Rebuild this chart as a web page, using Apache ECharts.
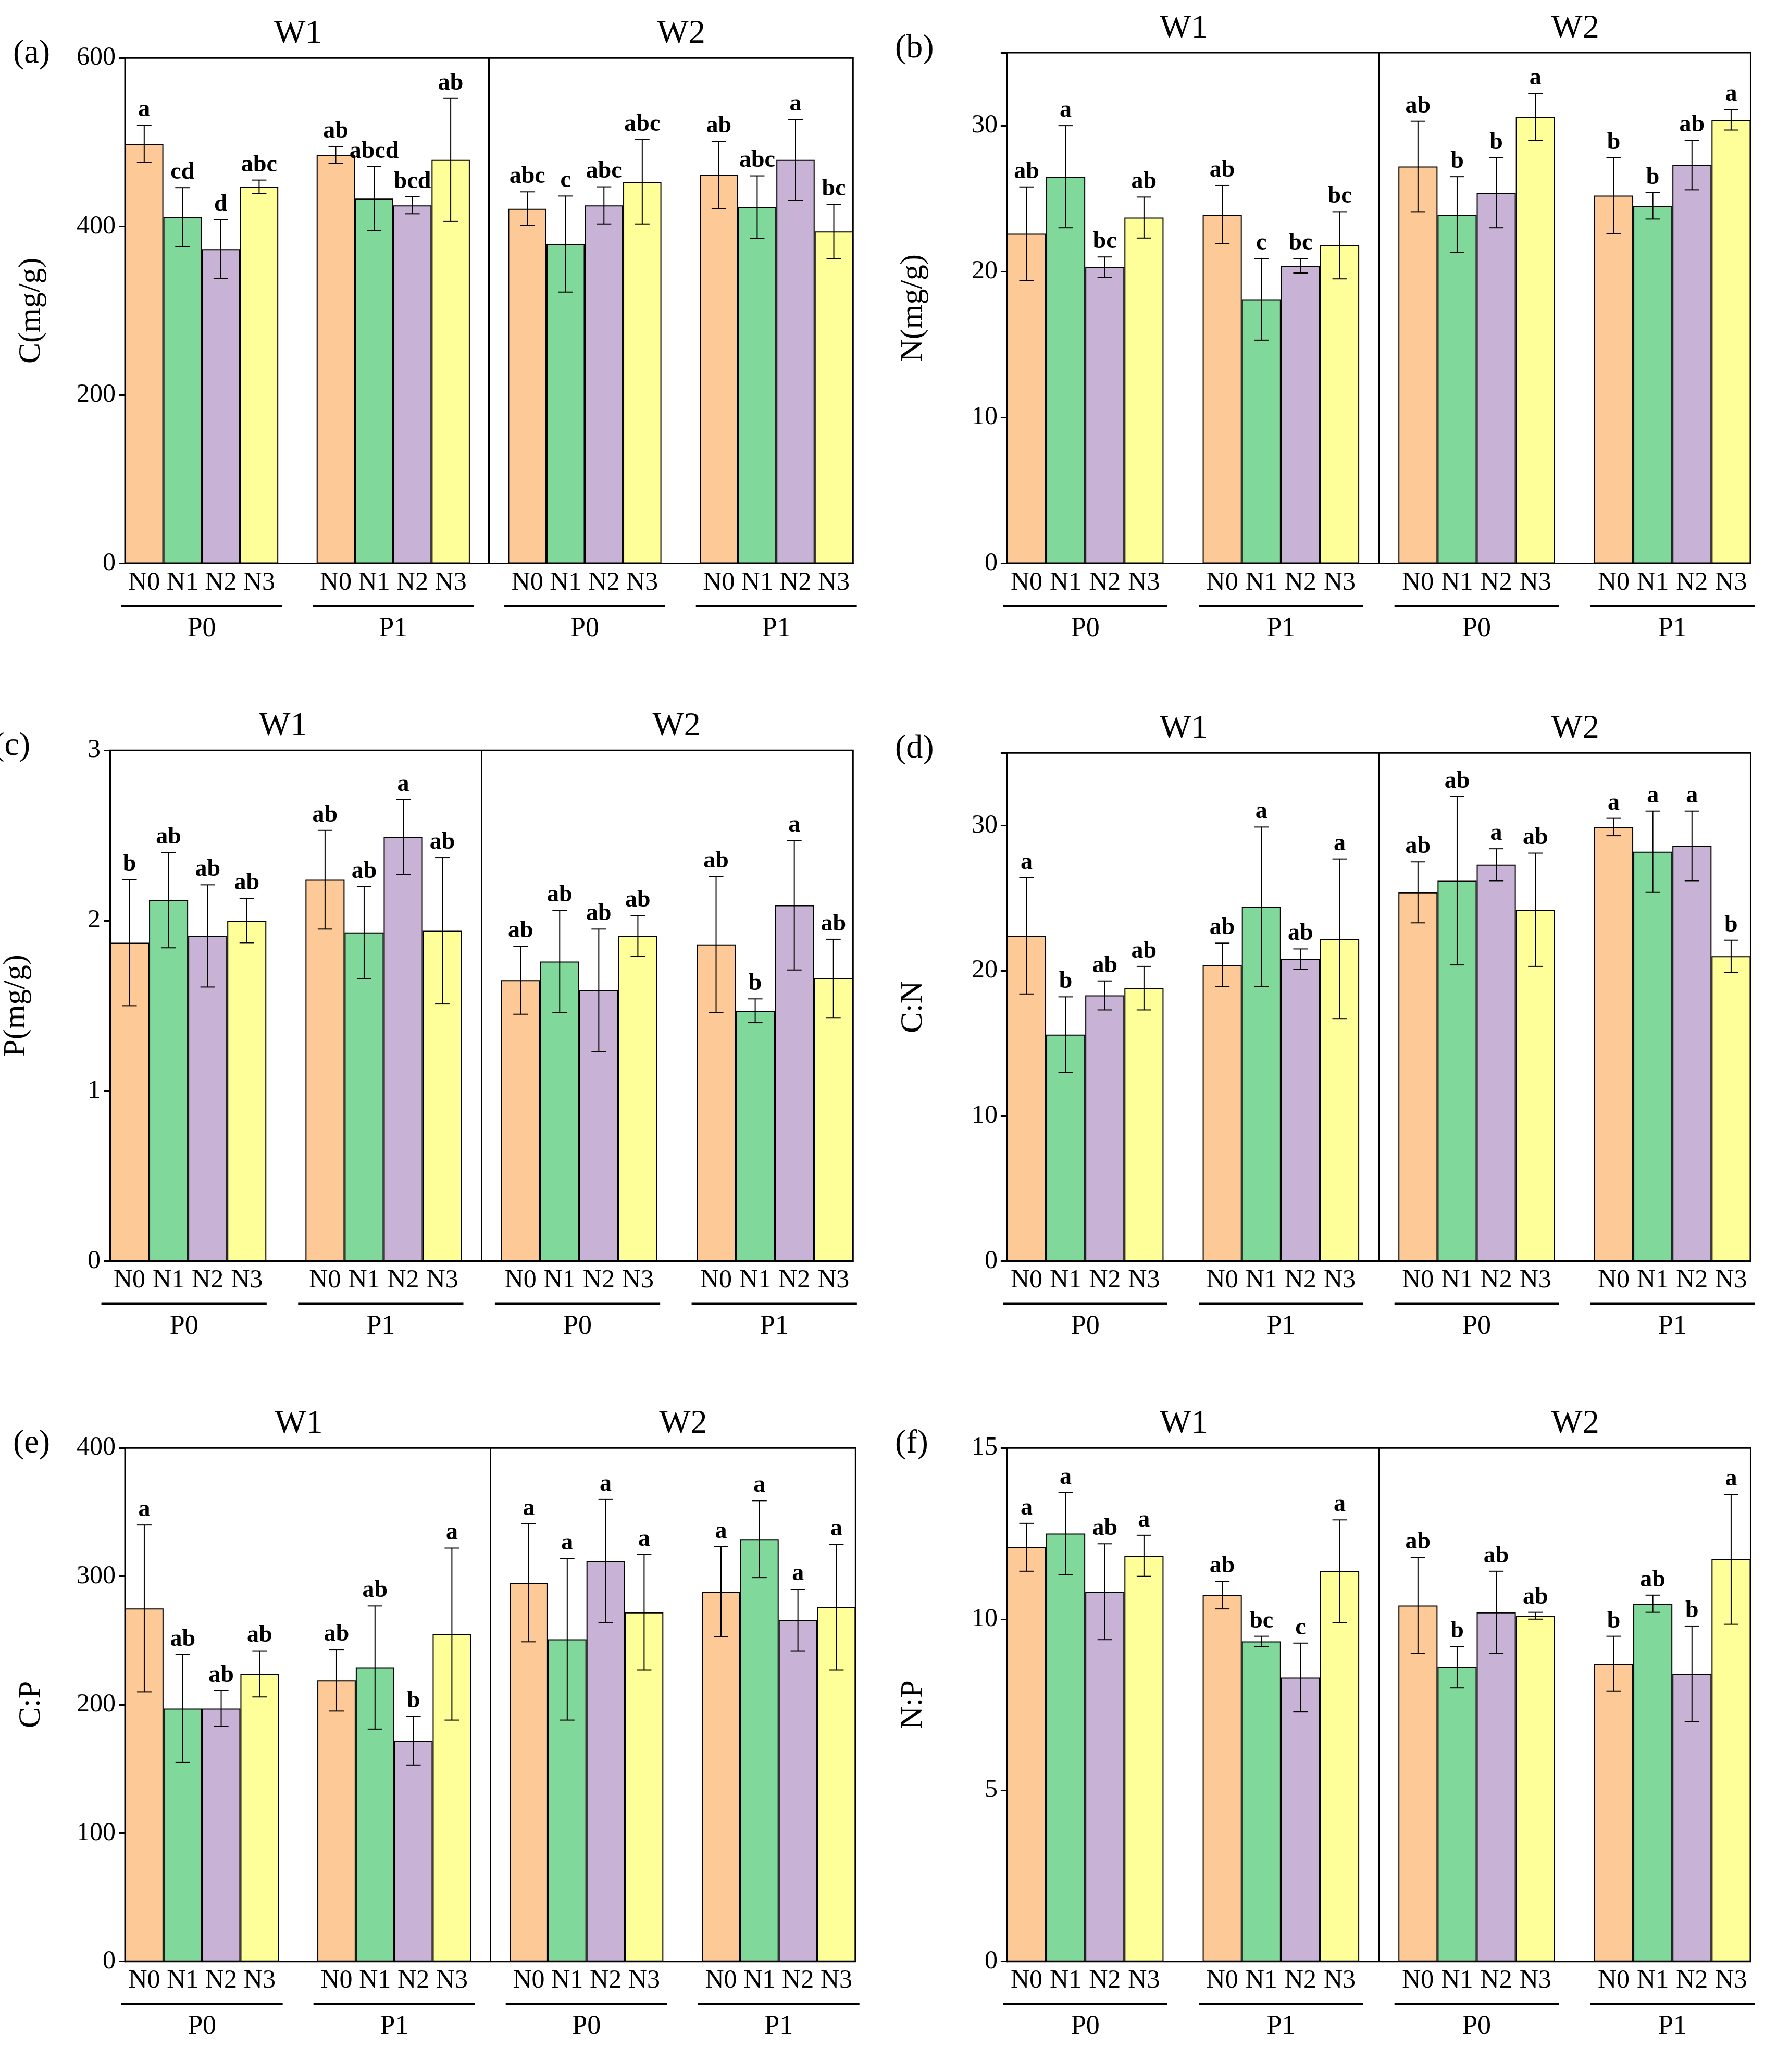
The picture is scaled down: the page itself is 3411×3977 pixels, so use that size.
<!DOCTYPE html>
<html>
<head>
<meta charset="UTF-8">
<script src="https://cdn.jsdelivr.net/npm/echarts@6/dist/echarts.min.js"></script>
<style>html,body{margin:0;background:#fff}#main{width:3411px;height:3977px}</style>
</head>
<body>
<div id="main"></div>
<script>
// data: 16 bars per panel, order W1P0 N0-N3, W1P1, W2P0, W2P1
var nLabels = ['N0', 'N1', 'N2', 'N3'];
var pLabels = ['P0', 'P1', 'P0', 'P1'];
var wLabels = ['W1', 'W2'];
var colors = ['#FDC996', '#80D99B', '#C8B3D6', '#FFFF99'];

var cMean = [498, 411, 373, 447, 485, 433, 425, 479, 421, 379, 425, 453, 461, 423, 479, 394];
var cSd = [22, 35, 35, 8, 10, 38, 10, 73, 20, 57, 22, 50, 40, 37, 48, 32];
var cLet = ['a','cd','d','abc','ab','abcd','bcd','ab','abc','c','abc','abc','ab','abc','a','bc'];

var nMean = [22.6, 26.5, 20.3, 23.7, 23.9, 18.1, 20.4, 21.8, 27.2, 23.9, 25.4, 30.6, 25.2, 24.5, 27.3, 30.4];
var nSd = [3.2, 3.5, 0.7, 1.4, 2.0, 2.8, 0.5, 2.3, 3.1, 2.6, 2.4, 1.6, 2.6, 0.9, 1.7, 0.7];
var nLet = ['ab','a','bc','ab','ab','c','bc','bc','ab','b','b','a','b','b','ab','a'];

var pMean = [1.87, 2.12, 1.91, 2.00, 2.24, 1.93, 2.49, 1.94, 1.65, 1.76, 1.59, 1.91, 1.86, 1.47, 2.09, 1.66];
var pSd = [0.37, 0.28, 0.30, 0.13, 0.29, 0.27, 0.22, 0.43, 0.20, 0.30, 0.36, 0.12, 0.40, 0.07, 0.38, 0.23];
var pLet = ['b','ab','ab','ab','ab','ab','a','ab','ab','ab','ab','ab','ab','b','a','ab'];

var cnMean = [22.4, 15.6, 18.3, 18.8, 20.4, 24.4, 20.8, 22.2, 25.4, 26.2, 27.3, 24.2, 29.9, 28.2, 28.6, 21.0];
var cnSd = [4.0, 2.6, 1.0, 1.5, 1.5, 5.5, 0.7, 5.5, 2.1, 5.8, 1.1, 3.9, 0.6, 2.8, 2.4, 1.1];
var cnLet = ['a','b','ab','ab','ab','a','ab','a','ab','ab','a','ab','a','a','a','b'];

var cpMean = [275, 197, 197, 224, 219, 229, 172, 255, 295, 251, 312, 272, 288, 329, 266, 276];
var cpSd = [65, 42, 14, 18, 24, 48, 19, 67, 46, 63, 48, 45, 35, 30, 24, 49];
var cpLet = ['a','ab','ab','ab','ab','ab','b','a','a','a','a','a','a','a','a','a'];

var npMean = [12.1, 12.5, 10.8, 11.85, 10.7, 9.35, 8.3, 11.4, 10.4, 8.6, 10.2, 10.1, 8.7, 10.45, 8.4, 11.75];
var npSd = [0.7, 1.2, 1.4, 0.6, 0.4, 0.15, 1.0, 1.5, 1.4, 0.6, 1.2, 0.1, 0.8, 0.25, 1.4, 1.9];
var npLet = ['a','a','ab','a','ab','bc','c','a','ab','b','ab','ab','b','ab','b','a'];

var s = 3411 / 1350;
var serif = 'Liberation Serif';
var panels = [
  {tag: '(a)', name: 'C(mg/g)', mean: cMean, sd: cSd, let: cLet, max: 600, step: 200, box: [95, 44, 553, 384]},
  {tag: '(b)', name: 'N(mg/g)', mean: nMean, sd: nSd, let: nLet, max: 35, step: 10, box: [765, 40, 565, 388]},
  {tag: '(c)', name: 'P(mg/g)', mean: pMean, sd: pSd, let: pLet, max: 3, step: 1, box: [80, 570, 568, 388]},
  {tag: '(d)', name: 'C:N', mean: cnMean, sd: cnSd, let: cnLet, max: 35, step: 10, box: [765, 572, 565, 386]},
  {tag: '(e)', name: 'C:P', mean: cpMean, sd: cpSd, let: cpLet, max: 400, step: 100, box: [95, 1100, 555, 390]},
  {tag: '(f)', name: 'N:P', mean: npMean, sd: npSd, let: npLet, max: 15, step: 5, box: [765, 1100, 565, 390]}
];

var cats = [];
for (var g = 0; g < 4; g++) {
  cats = cats.concat(nLabels);
  if (g < 3) cats.push('');
}
function catIndex(i) { return i + Math.floor(i / 4); }

var grid = [], xAxis = [], yAxis = [], series = [], graphic = [];
panels.forEach(function (p, k) {
  var L = p.box[0] * s, T = p.box[1] * s, W = p.box[2] * s, H = p.box[3] * s;
  var cw = W / 19;
  grid.push({left: L, top: T, width: W, height: H, show: true, borderColor: '#000', borderWidth: 3, backgroundColor: 'transparent'});
  xAxis.push({
    type: 'category', gridIndex: k, data: cats,
    axisLine: {lineStyle: {color: '#000', width: 3}}, axisTick: {show: false},
    axisLabel: {color: '#000', fontFamily: serif, fontSize: 50, margin: 12, interval: 0}
  });
  yAxis.push({
    type: 'value', gridIndex: k, min: 0, max: p.max, interval: p.step,
    name: p.name, nameLocation: 'middle', nameGap: 150,
    nameTextStyle: {color: '#000', fontFamily: serif, fontSize: 60},
    splitLine: {show: false},
    axisLine: {show: true, lineStyle: {color: '#000', width: 3}},
    axisTick: {show: true, length: 12, lineStyle: {color: '#000', width: 3}},
    axisLabel: {color: '#000', fontFamily: serif, fontSize: 50, margin: 18,
      formatter: function (v) { return v > p.max - 1e-9 && p.max % p.step !== 0 ? '' : v; }}
  });
  var barData = [];
  var errData = [];
  p.mean.forEach(function (m, i) {
    var c = catIndex(i);
    barData[c] = {value: m, itemStyle: {color: colors[i % 4]}};
    errData.push([c, m, p.sd[i], p.let[i]]);
  });
  for (var c = 0; c < 19; c++) if (!barData[c]) barData[c] = '-';
  series.push({
    type: 'bar', xAxisIndex: k, yAxisIndex: k, data: barData, barCategoryGap: '0%',
    itemStyle: {borderColor: '#000', borderWidth: 2},
    markLine: {symbol: 'none', silent: true, label: {show: false},
      lineStyle: {color: '#000', type: 'solid', width: 3}, data: [{xAxis: 9}]}
  });
  series.push({
    type: 'custom', xAxisIndex: k, yAxisIndex: k, data: errData, z: 5,
    renderItem: function (params, api) {
      var x = api.value(0), m = api.value(1), d = api.value(2);
      var top = api.coord([x, m + d]), bot = api.coord([x, m - d]);
      var cap = 14;
      return {type: 'group', children: [
        {type: 'line', shape: {x1: top[0], y1: top[1], x2: bot[0], y2: bot[1]}, style: {stroke: '#000', lineWidth: 2}},
        {type: 'line', shape: {x1: top[0] - cap, y1: top[1], x2: top[0] + cap, y2: top[1]}, style: {stroke: '#000', lineWidth: 2}},
        {type: 'line', shape: {x1: bot[0] - cap, y1: bot[1], x2: bot[0] + cap, y2: bot[1]}, style: {stroke: '#000', lineWidth: 2}},
        {type: 'text', style: {text: errData[params.dataIndex][3], x: top[0], y: top[1] - 6,
          align: 'center', verticalAlign: 'bottom', fill: '#000', font: 'bold 46px "Liberation Serif"'}}
      ]};
    }
  });
  // W1 / W2 titles, panel tag
  graphic.push({type: 'text', left: L + 4.5 * cw - 45, top: T - 78, style: {text: wLabels[0], fill: '#000', font: '64px "Liberation Serif"'}});
  graphic.push({type: 'text', left: L + 14.5 * cw - 45, top: T - 78, style: {text: wLabels[1], fill: '#000', font: '64px "Liberation Serif"'}});
  graphic.push({type: 'text', left: L - 215, top: T - 40, style: {text: p.tag, fill: '#000', font: '64px "Liberation Serif"'}});
  // P group underlines and labels
  for (var g2 = 0; g2 < 4; g2++) {
    var x0 = L + (g2 * 5) * cw, x1 = x0 + 4 * cw;
    var yl = T + H + 82;
    graphic.push({type: 'line', shape: {x1: x0 - 0.1 * cw, y1: yl, x2: x1 + 0.1 * cw, y2: yl}, style: {stroke: '#000', lineWidth: 4}});
    graphic.push({type: 'text', style: {text: pLabels[g2], x: (x0 + x1) / 2, y: yl + 18, align: 'center', verticalAlign: 'top', fill: '#000', font: '52px "Liberation Serif"'}});
  }
});

var chart = echarts.init(document.getElementById('main'));
chart.setOption({animation: false, backgroundColor: '#fff', grid: grid, xAxis: xAxis, yAxis: yAxis, series: series, graphic: graphic});
</script>
</body>
</html>
